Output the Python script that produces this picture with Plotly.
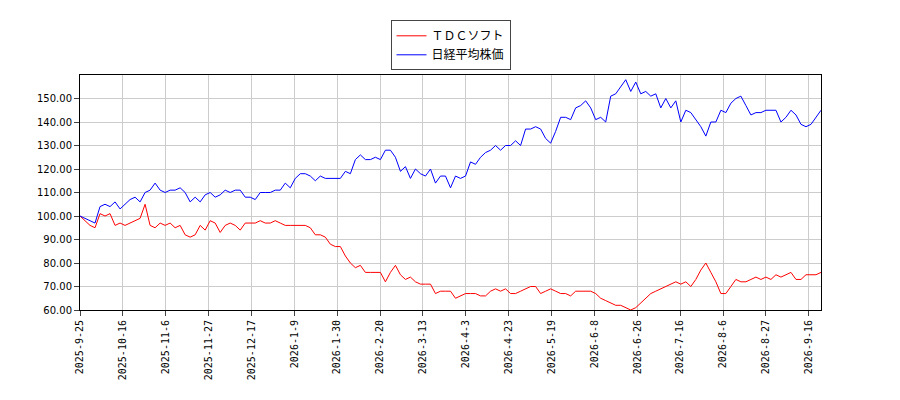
import plotly.graph_objects as go

tick_labels = ["2025-9-25","2025-10-16","2025-11-6","2025-11-27","2025-12-17","2026-1-9",
               "2026-1-30","2026-2-20","2026-3-13","2026-4-3","2026-4-23","2026-5-19",
               "2026-6-8","2026-6-26","2026-7-16","2026-8-6","2026-8-27","2026-9-16"]
tick_step = 14          # trading days between tick labels
last_day = 242          # index of last trading day

nikkei = [100,99,98,97,104,105,104,106,103,105,107,108,106,110,111,114,111,110,111,111,112,110,106,108,106,109,110,108,109,111,110,111,111,108,108,107,110,110,110,111,111,114,112,116,118,118,117,115,117,116,116,116,116,119,118,124,126,124,124,125,124,128,128,125,119,121,116,120,118,117,120,114,117,117,112,117,116,117,123,122,125,127,128,130,128,130,130,132,130,137,137,138,137,133,131,136,142,142,141,146,147,149,146,141,142,140,151,152,155,158,153,157,152,153,151,152,146,150,146,149,140,145,144,141,138,134,140,140,145,144,148,150,151,147,143,144,144,145,145,145,140,142,145,143,139,138,139,142,145]
tdc = [100,98,96,95,101,100,101,96,97,96,97,98,99,105,96,95,97,96,97,95,96,92,91,92,96,94,98,97,93,96,97,96,94,97,97,97,98,97,97,98,97,96,96,96,96,96,95,92,92,91,88,87,87,83,80,78,79,76,76,76,76,72,76,79,75,73,74,72,71,71,71,67,68,68,68,65,66,67,67,67,66,66,68,69,68,69,67,67,68,69,70,70,67,68,69,68,67,67,66,68,68,68,68,67,65,64,63,62,62,61,60,61,63,65,67,68,69,70,71,72,71,72,70,73,77,80,76,72,67,67,70,73,72,72,73,74,73,74,73,75,74,75,76,73,73,75,75,75,76]

n = len(nikkei)
x = [k * last_day / (n - 1) for k in range(n)]

fig = go.Figure()
fig.add_trace(go.Scatter(x=x, y=tdc, mode="lines", name="ＴＤＣソフト",
                         line=dict(color="#ff0000", width=1)))
fig.add_trace(go.Scatter(x=x, y=nikkei, mode="lines", name="日経平均株価",
                         line=dict(color="#0000ff", width=1)))

grid = "#cccccc"
fig.update_layout(
    width=900, height=400, paper_bgcolor="white", plot_bgcolor="white",
    margin=dict(l=72, r=87, t=62, b=98),
    font=dict(family="DejaVu Sans, Noto Sans CJK JP", size=10, color="black"),
    legend=dict(x=0.5, y=1.02, xanchor="center", yanchor="bottom",
                bordercolor="#444", borderwidth=1, font=dict(size=12)),
    showlegend=True,
)
fig.update_xaxes(range=[0, last_day], tickmode="array",
                 tickvals=[i * tick_step for i in range(len(tick_labels))],
                 ticktext=tick_labels, tickangle=-90, showgrid=True, gridcolor=grid,
                 showline=True, linecolor="black", mirror=True, ticks="outside",
                 tickfont=dict(family="DejaVu Sans Mono", size=10))
fig.update_yaxes(range=[60, 160], tickvals=[60,70,80,90,100,110,120,130,140,150],
                 tickformat=".2f", showgrid=True, gridcolor=grid,
                 showline=True, linecolor="black", mirror=True, ticks="outside")
fig.write_html("out.html")
